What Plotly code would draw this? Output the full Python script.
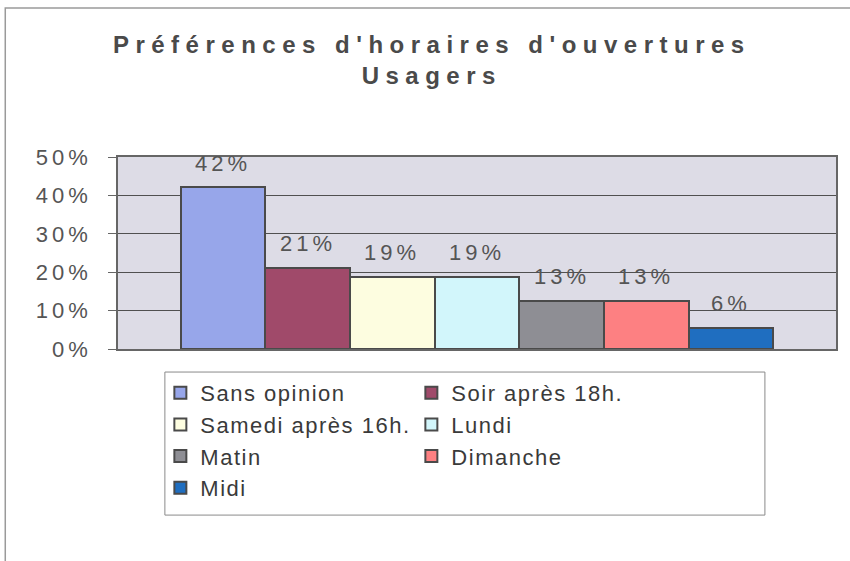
import plotly.graph_objects as go

# Préférences d'horaires d'ouvertures - Usagers
categories = ["Sans opinion", "Soir après 18h.", "Samedi après 16h.", "Lundi",
              "Matin", "Dimanche", "Midi"]
values = [0.421, 0.211, 0.188, 0.188, 0.126, 0.126, 0.056]
colors = ["#97a6ea", "#a04a6a", "#fdfde0", "#d2f6fb", "#8e8e94", "#fd8082", "#1f6ec0"]
yticks = [0, 0.1, 0.2, 0.3, 0.4, 0.5]

txt = "#555555"
font = "Liberation Sans, Arial, sans-serif"

fig = go.Figure()
for name, v, c in zip(categories, values, colors):
    fig.add_trace(go.Bar(
        x=[name], y=[v], name=name,
        marker=dict(color=c, line=dict(color="#4a4a4a", width=2)),
        hoverinfo="skip",
    ))

for name, v in zip(categories, values):
    fig.add_annotation(x=name, y=v, text=f"{round(v * 100)}%", showarrow=False,
                       yshift=24, font=dict(family=font, size=22, color=txt))

# cadre du graphique (bord du scan)
fig.add_shape(type="rect", xref="paper", yref="paper",
              x0=-0.157, x1=1.2, y0=-1.3, y1=1.776,
              line=dict(color="#9a9a9a", width=1.5), layer="above")
# cadre de la légende, plus large que son contenu comme dans Excel
fig.add_shape(type="rect", xref="paper", yref="paper",
              x0=0.0653, x1=0.901, y0=-0.865, y1=-0.12,
              fillcolor="white", line=dict(color="#8a8a8a", width=1), layer="below")

fig.update_layout(
    width=850, height=561,
    margin=dict(l=118, r=12, t=157, b=212),
    paper_bgcolor="white",
    plot_bgcolor="#dddce6",
    barmode="relative",
    bargap=0,
    showlegend=True,
    title=dict(text="Préférences d'horaires d'ouvertures<br>Usagers",
               x=0.508, xref="container", xanchor="center",
               y=0.905, yref="container", yanchor="top",
               font=dict(family=font, size=24, color="#4a4a4a", weight="bold")),
    legend=dict(orientation="h", x=0.059, xanchor="left", y=-0.12, yanchor="top",
                entrywidth=206, bgcolor="rgba(0,0,0,0)", borderwidth=0,
                font=dict(family=font, size=22, color="#3a3a3a"),
                traceorder="normal"),
)

fig.update_xaxes(range=[-1.242, 7.242], showticklabels=False, ticks="",
                 showgrid=False, showline=True, linecolor="#666666", linewidth=1.5,
                 mirror=True, zeroline=False, fixedrange=True)
fig.update_yaxes(range=[0, 0.5], tickvals=yticks, tickformat=".0%",
                 showgrid=True, gridcolor="#505050", gridwidth=1,
                 showline=True, linecolor="#666666", linewidth=1.5, mirror=True,
                 ticks="outside", ticklen=8, tickcolor="#666666",
                 ticklabelstandoff=12, zeroline=False,
                 tickfont=dict(family=font, size=22, color=txt))

# espacement des lettres comme sur l'original Excel, et pas de marge de page
css = """
var s = document.createElement('style');
s.textContent = 'body{margin:0}.gtitle{letter-spacing:6.5px}.legendtext{letter-spacing:1.5px}'
  + '.ytick text{letter-spacing:4px}.annotation-text{letter-spacing:4px}';
document.head.appendChild(s);
"""
fig.write_html("out.html", post_script=css, config={"displayModeBar": False})
